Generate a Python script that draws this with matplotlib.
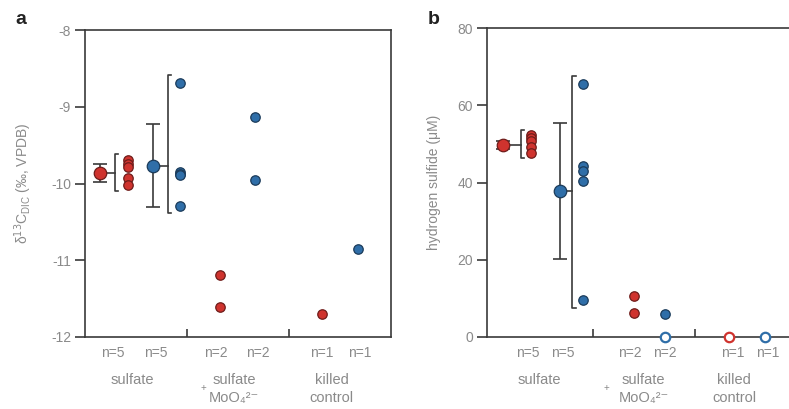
import matplotlib
matplotlib.use("Agg")
import matplotlib.pyplot as plt
import numpy as np

plt.rcParams['font.family'] = ['Liberation Sans', 'DejaVu Sans']

# ---------------- data ----------------
groups = ["sulfate", "sulfate\nMoO₄²⁻", "killed\ncontrol"]
n_labels = ["n=5", "n=5", "n=2", "n=2", "n=1", "n=1"]

# panel a: delta13C DIC
a_red_mean, a_red_sd = -9.86, 0.12
a_blue_mean, a_blue_sd = -9.77, 0.54
a_red_sulfate = [-9.69, -9.74, -9.79, -9.93, -10.02]
a_blue_sulfate = [-8.69, -9.85, -9.87, -9.89, -10.29]
a_red_molyb = [-11.19, -11.61]
a_blue_molyb = [-9.13, -9.95]
a_red_killed = [-11.70]
a_blue_killed = [-10.85]

# panel b: hydrogen sulfide
b_red_mean, b_red_sd = 49.7, 1.0
b_blue_mean, b_blue_sd = 37.8, 17.7
b_red_sulfate = [52.4, 51.6, 50.7, 49.2, 47.6]
b_blue_sulfate = [65.5, 44.3, 43.0, 40.4, 9.6]
b_red_molyb = [10.7, 6.2]
b_blue_molyb = [5.9]
b_blue_molyb_zero = [0]
b_red_killed_zero = [0]
b_blue_killed_zero = [0]

RED = '#cf332e'
RED_E = '#6e1c1a'
BLUE = '#2f6ea8'
BLUE_E = '#1b3b5a'
GRAY = '#8a8a8a'
DARK = '#3a3a3a'

fig = plt.figure(figsize=(7.89, 4.09), dpi=100)
W, H = 789, 409


def ax_rect(l, r, t, b):
    return [l / W, 1 - b / H, (r - l) / W, (b - t) / H]


axa = fig.add_axes(ax_rect(85, 391, 30, 337))
axb = fig.add_axes(ax_rect(487, 796, 28, 337))


def style(ax, ylim, yticks, seps):
    ax.set_xlim(0, 3)
    ax.set_ylim(*ylim)
    ax.set_yticks(yticks)
    ax.set_yticklabels([str(v) for v in yticks], color=GRAY, fontsize=10)
    ax.tick_params(axis='y', direction='out', length=7, width=1.2, color=DARK, pad=3)
    ax.set_xticks(seps)
    ax.set_xticklabels([])
    ax.tick_params(axis='x', direction='in', length=6, width=1.2, color=DARK)
    for s in ax.spines.values():
        s.set_color(DARK)
        s.set_linewidth(1.2)


style(axa, (-12, -8), [-8, -9, -10, -11, -12], [1.0, 2.0])
axa.set_yticklabels(['-8', '-9', '-10', '-11', '-12'])
style(axb, (0, 80), [0, 20, 40, 60, 80], [1.03, 2.02])
axb.spines['right'].set_visible(False)


def pts(ax, x, ys, fc, ec, size=6.8, hollow=False):
    xs = [x] * len(ys)
    if hollow:
        ax.plot(xs, ys, 'o', ms=size, mfc='white', mec=fc, mew=1.6, ls='none',
                clip_on=False, zorder=5)
    else:
        ax.plot(xs, ys, 'o', ms=size, mfc=fc, mec=ec, mew=0.9, ls='none',
                clip_on=False, zorder=5)


def mean_bar(ax, x, m, sd, fc, ec, xb, ys, pad):
    ax.errorbar([x], [m], yerr=[sd], fmt='none', ecolor=DARK, elinewidth=1.2,
                capsize=5, capthick=1.2, zorder=3)
    ax.plot([x], [m], 'o', ms=9, mfc=fc, mec=ec, mew=0.9, zorder=6)
    lo, hi = min(ys) - pad, max(ys) + pad
    d = 0.03
    ax.plot([xb + d, xb, xb, xb + d], [hi, hi, lo, lo], color=DARK, lw=1.2, zorder=3)
    ax.plot([x, xb], [m, m], color=DARK, lw=1.2, zorder=2)


# panel a
mean_bar(axa, 0.15, a_red_mean, a_red_sd, RED, RED_E, 0.29, a_red_sulfate, 0.08)
pts(axa, 0.42, a_red_sulfate, RED, RED_E)
mean_bar(axa, 0.67, a_blue_mean, a_blue_sd, BLUE, BLUE_E, 0.81, a_blue_sulfate, 0.1)
pts(axa, 0.93, a_blue_sulfate, BLUE, BLUE_E)
pts(axa, 1.32, a_red_molyb, RED, RED_E)
pts(axa, 1.67, a_blue_molyb, BLUE, BLUE_E)
pts(axa, 2.32, a_red_killed, RED, RED_E)
pts(axa, 2.68, a_blue_killed, BLUE, BLUE_E)

# panel b
mean_bar(axb, 0.16, b_red_mean, b_red_sd, RED, RED_E, 0.33, b_red_sulfate, 1.3)
pts(axb, 0.43, b_red_sulfate, RED, RED_E)
mean_bar(axb, 0.71, b_blue_mean, b_blue_sd, BLUE, BLUE_E, 0.83, b_blue_sulfate, 2.1)
pts(axb, 0.93, b_blue_sulfate, BLUE, BLUE_E)
pts(axb, 1.43, b_red_molyb, RED, RED_E)
pts(axb, 1.73, b_blue_molyb, BLUE, BLUE_E)
pts(axb, 1.73, b_blue_molyb_zero, BLUE, BLUE_E, hollow=True)
pts(axb, 2.35, b_red_killed_zero, RED, RED_E, hollow=True)
pts(axb, 2.70, b_blue_killed_zero, BLUE, BLUE_E, hollow=True)


# labels under axes
def under(ax, nx, gx, plusx):
    tr = ax.get_xaxis_transform()
    for x, lab in zip(nx, n_labels):
        ax.text(x, -0.052, lab, transform=tr, ha='center', va='center',
                color=GRAY, fontsize=10)
    for x, g in zip(gx, groups):
        ax.text(x, -0.118, g, transform=tr, ha='center', va='top',
                color=GRAY, fontsize=10.5, linespacing=1.3)
    ax.text(plusx, -0.165, '+', transform=tr, ha='center', va='center',
            color=GRAY, fontsize=7)


under(axa, [0.27, 0.69, 1.28, 1.69, 2.32, 2.69], [0.46, 1.46, 2.42], 1.16)
under(axb, [0.40, 0.74, 1.39, 1.73, 2.39, 2.73], [0.51, 1.52, 2.40], 1.16)

axa.set_ylabel('δ$^{13}$C$_{\\mathregular{DIC}}$ (‰, VPDB)', color=GRAY, fontsize=10,
               labelpad=12)
axb.set_ylabel('hydrogen sulfide (μM)', color=GRAY, fontsize=10, labelpad=12)

fig.text(15 / W, 1 - 20 / H, 'a', fontsize=14, fontweight='bold', color='#222222',
         ha='left', va='center')
fig.text(428 / W, 1 - 20 / H, 'b', fontsize=14, fontweight='bold', color='#222222',
         ha='left', va='center')

fig.savefig('out.png', dpi=100)
